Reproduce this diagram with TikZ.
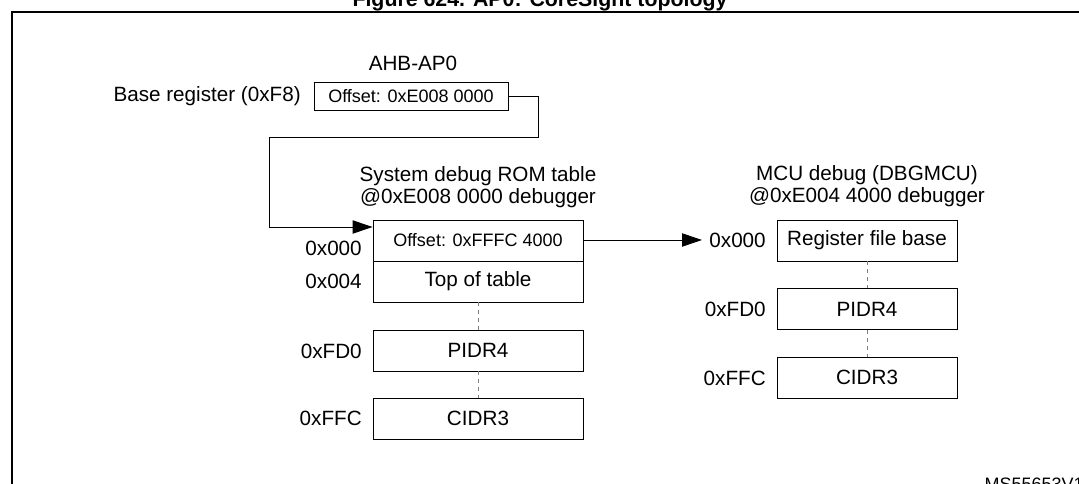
\documentclass[tikz,border=0pt]{standalone}
\usepackage{fontspec}
\setmainfont{Liberation Sans}
\usetikzlibrary{arrows.meta}
\begin{document}
\begin{tikzpicture}[x=0.75pt,y=-0.75pt,
  lbl/.style={font=\fontsize{15.5}{18}\selectfont,inner sep=0pt},
  sm/.style={font=\fontsize{13.5}{16}\selectfont,inner sep=0pt},
  box/.style={draw,line width=0.7pt},
  dsh/.style={draw,dashed,line width=0.6pt,gray},
  conn/.style={draw,line width=0.7pt},
  arr/.style={conn,-{Triangle[length=15pt,width=10pt]}}]
\useasboundingbox (0,0) rectangle (1079,484);
\begin{scope}
\clip (0,0) rectangle (1079,484);
\node[font=\bfseries\fontsize{16}{18}\selectfont,inner sep=0pt] (title) at (540,1) {Figure 624. AP0: CoreSight topology};
\draw[line width=1.3pt] (12,490) -- (12,12) -- (1085,12);
\node[sm,anchor=east] (mark) at (1084,484) {MS55653V1};
\end{scope}
% AHB-AP0
\node[lbl] (ahb) at (413,63) {AHB-AP0};
\node[lbl,anchor=east] (base) at (301,96) {Base register (0xF8)};
\node[box,sm,minimum width=194*0.75pt,minimum height=28*0.75pt] (off0) at (411,96) {Offset: 0xE008 0000};
% ROM table
\node[lbl] (t1) at (478,176) {System debug ROM table};
\node[lbl] (t2) at (478,198) {@0xE008 0000 debugger};
\node[box,sm,minimum width=210*0.75pt,minimum height=41*0.75pt] (r0) at (478,240.5) {Offset: 0xFFFC 4000};
\node[box,lbl,minimum width=210*0.75pt,minimum height=41*0.75pt] (r1) at (478,281.5) {Top of table};
\node[box,lbl,minimum width=210*0.75pt,minimum height=41*0.75pt] (r2) at (478,350.5) {PIDR4};
\node[box,lbl,minimum width=210*0.75pt,minimum height=41*0.75pt] (r3) at (478,418.5) {CIDR3};
\draw[dsh] (r1.south) -- (r2.north);
\draw[dsh] (r2.south) -- (r3.north);
\node[lbl,anchor=east] (a0) at (362,248) {0x000};
\node[lbl,anchor=east] (a1) at (362,281) {0x004};
\node[lbl,anchor=east] (a2) at (362,351) {0xFD0};
\node[lbl,anchor=east] (a3) at (362,418) {0xFFC};
% MCU
\node[lbl] (m1) at (867,175) {MCU debug (DBGMCU)};
\node[lbl] (m2) at (867,197) {@0xE004 4000 debugger};
\node[box,lbl,minimum width=180*0.75pt,minimum height=41*0.75pt] (q0) at (867,240.5) {Register file base};
\node[box,lbl,minimum width=180*0.75pt,minimum height=41*0.75pt] (q1) at (867,309) {PIDR4};
\node[box,lbl,minimum width=180*0.75pt,minimum height=41*0.75pt] (q2) at (867,377.5) {CIDR3};
\draw[dsh] (q0.south) -- (q1.north);
\draw[dsh] (q1.south) -- (q2.north);
\node[lbl,anchor=east] (b0) at (766,240) {0x000};
\node[lbl,anchor=east] (b1) at (766,309) {0xFD0};
\node[lbl,anchor=east] (b2) at (766,378) {0xFFC};
% connectors
\coordinate (c1) at (538,96);
\draw[arr] (off0.east) -- (c1) -- (538,137) -- (269,137) -- (269,227) -- (r0.west |- 0,227);
\draw[arr] (r0.east |- 0,240) -- (702,240);
\end{tikzpicture}
\end{document}
